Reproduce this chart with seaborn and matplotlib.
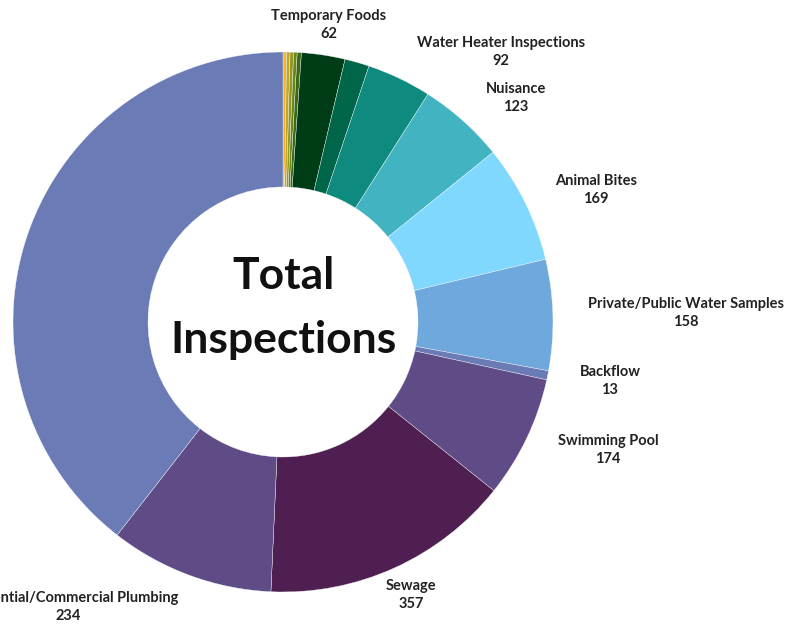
import matplotlib
matplotlib.use("Agg")
import matplotlib.pyplot as plt
import seaborn as sns

sns.set_theme(style="white")
plt.rcParams["font.family"] = ["Lato", "DejaVu Sans"]

# slices, clockwise from 12 o'clock
CATEGORIES = ["Other A", "Other B", "Other C", "Other D", "Other E",
              "Temporary Foods", "Other F", "Water Heater Inspections", "Nuisance",
              "Animal Bites", "Private/Public Water Samples", "Backflow",
              "Swimming Pool", "Sewage", "Residential/Commercial Plumbing", "Food Service"]
VALUES = [5, 5, 5, 5, 6, 62, 35, 92, 123, 169, 158, 13, 174, 357, 234, 941]
SHOW_LABEL = [False, False, False, False, False, True, False, True, True,
              True, True, True, True, True, True, False]
COLORS = ["#f2b430", "#c2a62a", "#939a24", "#66871d", "#3e6a17",
          "#003d16", "#00664a", "#0e8a7e", "#42b3c1", "#80d8ff", "#6fa8dc",
          "#6a7bb5", "#5f4b86", "#4f1f52", "#5f4b86", "#6a7bb5"]

# label centres in reference pixels (x from left, y from top)
LABEL_PX = {
    "Temporary Foods": (329, 25),
    "Water Heater Inspections": (501, 52),
    "Nuisance": (516, 98),
    "Animal Bites": (596, 190),
    "Private/Public Water Samples": (686, 313),
    "Backflow": (610, 381),
    "Swimming Pool": (608, 450),
    "Sewage": (411, 595),
    "Residential/Commercial Plumbing": (68, 607),
}

W, H = 798, 624
CX, CY, R = 283, 322, 270


def px_to_data(x, y):
    return (x - CX) / R, (CY - y) / R


fig = plt.figure(figsize=(W / 100, H / 100), dpi=100)
ax = fig.add_axes([0, 0, 1, 1])

palette = sns.color_palette(COLORS)
ax.pie(VALUES, colors=palette, startangle=90, counterclock=False, radius=1,
       wedgeprops=dict(width=0.5, edgecolor="white", linewidth=0.25))

# pie() resets the limits, so set them afterwards
ax.set_xlim(-CX / R, (W - CX) / R)
ax.set_ylim(-(H - CY) / R, CY / R)
ax.set_aspect("equal")
ax.axis("off")

for name, val, show in zip(CATEGORIES, VALUES, SHOW_LABEL):
    if not show:
        continue
    x, y = px_to_data(*LABEL_PX[name])
    ax.text(x, y, f"{name}\n{val}", ha="center", va="center", fontsize=10.5,
            fontweight="bold", color="#222222", linespacing=1.45, clip_on=False)

tx, ty = px_to_data(284, 276)
ax.text(tx, ty, "Total", ha="center", va="center", fontsize=32,
        fontweight="bold", color="#111111")
tx, ty = px_to_data(284, 340)
ax.text(tx, ty, "Inspections", ha="center", va="center", fontsize=32,
        fontweight="bold", color="#111111")

fig.savefig("out.png", dpi=100, facecolor="white")
plt.close(fig)
